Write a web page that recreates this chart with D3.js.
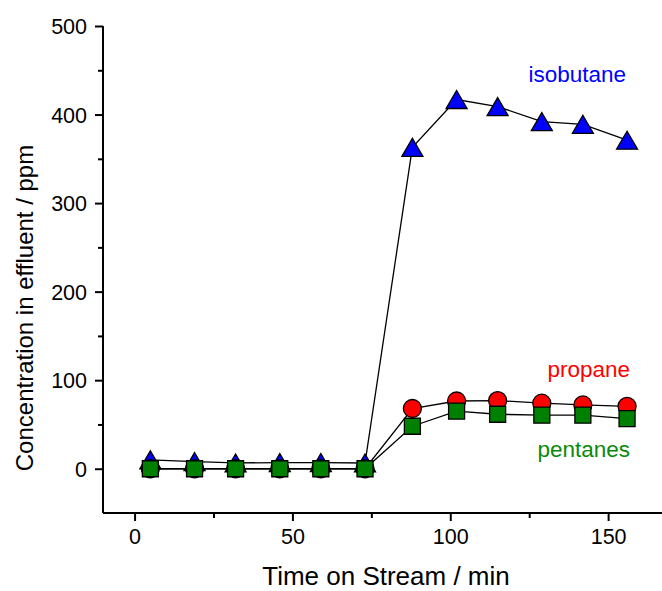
<!DOCTYPE html>
<html>
<head>
<meta charset="utf-8">
<script src="https://cdn.jsdelivr.net/npm/d3@7"></script>
<style>
  body { margin: 0; background: #fff; }
  svg { display: block; font-family: "Liberation Sans", Arial, sans-serif; }
  .axis path, .axis line { stroke: #000; stroke-width: 2; }
  .axis text { fill: #000; font-size: 21.5px; }
</style>
</head>
<body>
<svg width="662" height="591"></svg>
<script>
// time on stream, min
const times = [5, 19, 32, 46, 59, 73, 88, 102, 115, 129, 142, 156];
// concentrations, ppm
const isobutane = [10, 8, 6.5, 7, 7, 6.5, 363, 417, 409, 392, 389, 371];
const propane = [0, 0, 0, 0, 0, 0, 68, 76.5, 77, 74, 72, 70.5];
const pentanes = [0, 0, 0, 0, 0, 0, 48, 65, 61.5, 60.5, 60.5, 56.5];

const xTicks = [0, 50, 100, 150];
const xMinor = [25, 75, 125];
const yTicks = [0, 100, 200, 300, 400, 500];
const yMinor = [50, 150, 250, 350, 450];

const series = [
  { name: "isobutane", values: isobutane, color: "#0000ff", text: "#0000ff", shape: "triangle", label: [626, 82] },
  { name: "propane", values: propane, color: "#ff0000", text: "#ff0000", shape: "circle", label: [630, 377] },
  { name: "pentanes", values: pentanes, color: "#008000", text: "#0a8a0a", shape: "square", label: [630, 457] },
];

const svg = d3.select("svg");
const margin = { left: 103, top: 26, bottom: 78 };
const height = +svg.attr("height");

const xScale = d3.scaleLinear().domain([-10, 170]).range([margin.left, margin.left + 180 * 3.157]);
const yScale = d3.scaleLinear().domain([-50, 500]).range([height - margin.bottom, margin.top]);

// minor ticks first, no labels
svg.append("g")
  .attr("class", "axis")
  .attr("transform", `translate(0,${yScale(-50)})`)
  .call(d3.axisBottom(xScale).tickValues(xMinor).tickSize(5).tickFormat(""))
  .call((g) => g.select(".domain").remove());
svg.append("g")
  .attr("class", "axis")
  .attr("transform", `translate(${xScale(-10)},0)`)
  .call(d3.axisLeft(yScale).tickValues(yMinor).tickSize(5).tickFormat(""))
  .call((g) => g.select(".domain").remove());

const xAxisG = svg.append("g")
  .attr("class", "axis")
  .attr("transform", `translate(0,${yScale(-50)})`)
  .call(d3.axisBottom(xScale).tickValues(xTicks).tickSizeOuter(0).tickSize(8).tickPadding(8));
xAxisG.select(".domain").attr("d", `M${xScale(-10)},0H662`);

const yAxisG = svg.append("g")
  .attr("class", "axis")
  .attr("transform", `translate(${xScale(-10)},0)`)
  .call(d3.axisLeft(yScale).tickValues(yTicks).tickSizeOuter(0).tickSize(8).tickPadding(8));
yAxisG.select(".domain").attr("d", `M0,${yScale(-50)}V${yScale(500)}`);
yAxisG.selectAll("text").attr("dy", "0.36em");

// axis titles
svg.append("text")
  .attr("x", 386)
  .attr("y", 585)
  .attr("text-anchor", "middle")
  .attr("font-size", 26)
  .text("Time on Stream / min");
svg.append("text")
  .attr("transform", `translate(33,${308}) rotate(-90)`)
  .attr("text-anchor", "middle")
  .attr("font-size", 24)
  .text("Concentration in effluent / ppm");

const line = d3.line()
  .x((d, i) => xScale(times[i]))
  .y((d) => yScale(d));

const marker = (shape) => {
  if (shape === "triangle") return "M0,-9L10.5,9L-10.5,9Z";
  if (shape === "circle") return d3.symbol(d3.symbolCircle, Math.PI * 81)();
  return "M-8,-8H8V8H-8Z";
};

series.forEach((s) => {
  const g = svg.append("g");
  g.append("path")
    .attr("d", line(s.values))
    .attr("fill", "none")
    .attr("stroke", "#000")
    .attr("stroke-width", 1.3);
  g.selectAll("path.pt")
    .data(s.values)
    .enter()
    .append("path")
    .attr("class", "pt")
    .attr("d", marker(s.shape))
    .attr("transform", (d, i) => `translate(${xScale(times[i])},${yScale(d)})`)
    .attr("fill", s.color)
    .attr("stroke", "#000")
    .attr("stroke-width", 1.3);
});

series.forEach((s) => {
  svg.append("text")
    .attr("x", s.label[0])
    .attr("y", s.label[1])
    .attr("text-anchor", "end")
    .attr("font-size", 22.5)
    .attr("fill", s.text)
    .text(s.name);
});
</script>
</body>
</html>
